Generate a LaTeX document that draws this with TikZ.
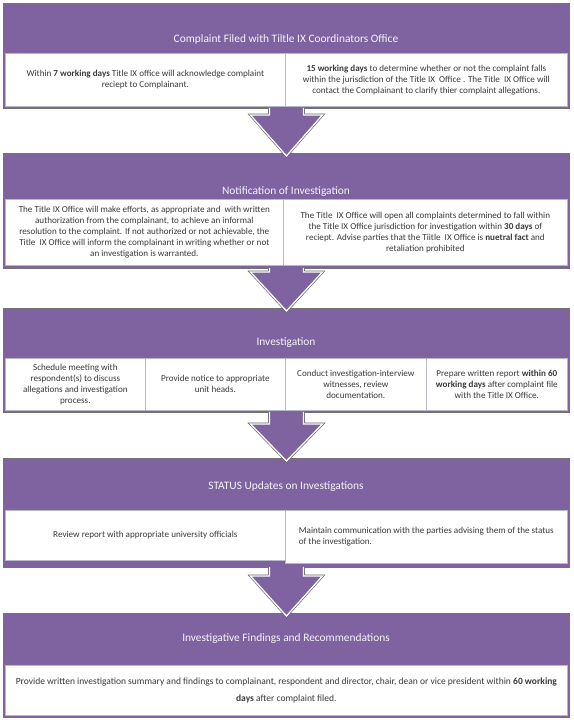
\documentclass[tikz,border=0pt]{standalone}
\usepackage{fontspec}
\setmainfont{Carlito}
\usetikzlibrary{calc}
\definecolor{purp}{HTML}{7F63A1}
\definecolor{bodytxt}{HTML}{3A3A3A}
\definecolor{boxline}{HTML}{B8B8C8}
\tikzset{
  frame/.style={draw=black!55, line width=0.9pt, fill=purp, inner sep=0pt, anchor=north west},
  wbox/.style={draw=boxline, line width=0.7pt, fill=white, inner sep=1pt, anchor=north west,
    align=center, text=bodytxt, font=\fontsize{9.1}{11}\selectfont},
  ttl/.style={text=white!92!purp, font=\fontsize{11.4}{13}\selectfont, inner sep=1pt},
  arrowedge/.style={draw=black!60, line width=2.6pt, line join=miter},
  fatarrow/.style={fill=purp, draw=white, line width=1.3pt, line join=miter}
}
\newcommand{\fatarr}[3]{%
  \draw[arrowedge] ($(#1.south)+(17,-1)$) -- ($(#2.north)+(17,-#3)$) -- ($(#2.north)+(36,-#3)$)
    -- ($(#2.north)+(0,3)$) -- ($(#2.north)+(-36,-#3)$) -- ($(#2.north)+(-17,-#3)$)
    -- ($(#1.south)+(-17,-1)$);
  \draw[fatarrow] ($(#1.south)+(17,-1)$) -- ($(#2.north)+(17,-#3)$) -- ($(#2.north)+(36,-#3)$)
    -- ($(#2.north)+(0,3)$) -- ($(#2.north)+(-36,-#3)$) -- ($(#2.north)+(-17,-#3)$)
    -- ($(#1.south)+(-17,-1)$);}
\begin{document}
\begin{tikzpicture}[x=1pt,y=-1pt]
\useasboundingbox[fill=white] (0,0) rectangle (573,720);

% Section 1
\node[frame, minimum width=566pt, minimum height=105pt] (s1) at (3,3) {};
\node[ttl] (t1) at (286,39) {Complaint Filed with Tiltle IX Coordinators Office};
\node[wbox, minimum width=280pt, minimum height=53pt] (s1a) at (5,53)
  {Within \textbf{7 working days} Title IX office will acknowledge complaint\\ reciept to Complainant.};
\node[wbox, minimum width=282pt, minimum height=53pt] (s1b) at (285,53)
  {\textbf{15 working days} to determine whether or not the complaint falls\\ within the jurisdiction of the Title IX\ \ Office . The Title\ \ IX Office will\\ contact the Complainant to clarify thier complaint allegations.};

% Section 2
\node[frame, minimum width=566pt, minimum height=115pt] (s2) at (3,153) {};
\node[ttl] (t2) at (286,192) {Notification of Investigation};
\node[wbox, minimum width=278pt, minimum height=66pt] (s2a) at (5,199)
  {The Title IX Office will make efforts, as appropriate and\ \ with written\\ authorization from the complainant, to achieve an informal\\ resolution to the complaint. If not authorized or not achievable, the\\ Title\ \ IX Office will inform the complainant in writing whether or not\\ an investigation is warranted.};
\node[wbox, minimum width=284pt, minimum height=66pt] (s2b) at (283,199)
  {The Title\ \ IX Office will open all complaints determined to fall within\\ the Title IX Office jurisdiction for investigation within \textbf{30 days} of\\ reciept. Advise parties that the Tiitle\ \ IX Office is \textbf{nuetral fact} and\\ retaliation prohibited};

% Section 3
\node[frame, minimum width=566pt, minimum height=104pt] (s3) at (3,308) {};
\node[ttl] (t3) at (286,343) {Investigation};
\node[wbox, minimum width=140pt, minimum height=52pt] (s3a) at (5,358)
  {Schedule meeting with\\ respondent(s) to discuss\\ allegations and investigation\\ process.};
\node[wbox, minimum width=140pt, minimum height=52pt] (s3b) at (145,358)
  {Provide notice to appropriate\\ unit heads.};
\node[wbox, minimum width=141pt, minimum height=52pt] (s3c) at (285,358)
  {Conduct investigation-interview\\ witnesses, review\\ documentation.};
\node[wbox, minimum width=141pt, minimum height=52pt] (s3d) at (426,358)
  {Prepare written report \textbf{within 60}\\ \textbf{working days} after complaint file\\ with the Title IX Office.};

% Section 4
\node[frame, minimum width=566pt, minimum height=109pt] (s4) at (3,458) {};
\node[ttl] (t4) at (286,487) {STATUS Updates on Investigations};
\node[wbox, minimum width=280pt, minimum height=50pt] (s4a) at (5,510)
  {Review report with appropriate university officials};
\node[wbox, minimum width=282pt, minimum height=53pt, align=left] (s4b) at (285,510)
  {Maintain communication with the parties advising them of the status\\ of the investigation.};

% Section 5
\node[frame, minimum width=566pt, minimum height=104pt] (s5) at (3,613) {};
\node[ttl] (t5) at (286,639) {Investigative Findings and Recommendations};
\node[wbox, minimum width=562pt, minimum height=50pt,
  font=\fontsize{9.5}{17}\selectfont] (s5a) at (5,665)
  {Provide written investigation summary and findings to complainant, respondent and director, chair, dean or vice president within \textbf{60 working}\\ \textbf{days} after complaint filed.};

% Arrows
\fatarr{s1}{s2}{38}
\fatarr{s2}{s3}{36}
\fatarr{s3}{s4}{34}
\fatarr{s4}{s5}{37}
\end{tikzpicture}
\end{document}
